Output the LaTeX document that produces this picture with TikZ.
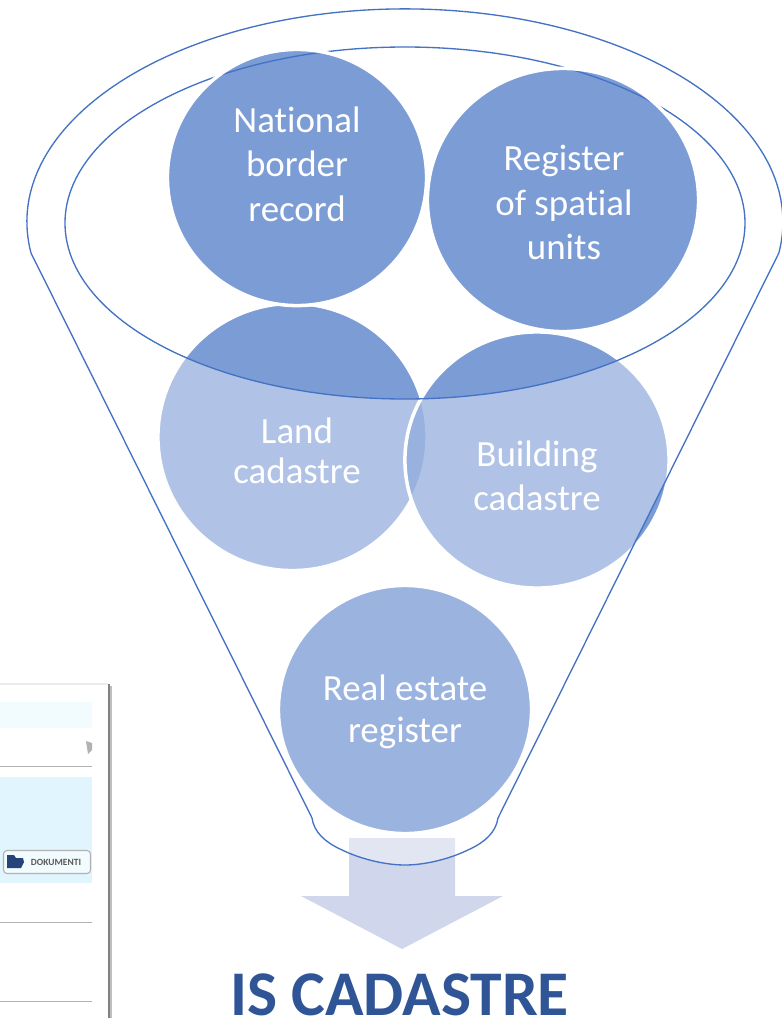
\documentclass[tikz,border=0pt]{standalone}
\usepackage{fontspec}
\setmainfont[Ligatures=NoCommon]{Carlito}
\usetikzlibrary{shapes.geometric}
\definecolor{funnelblue}{HTML}{4472C4}
\definecolor{arrowblue}{HTML}{D0D6EB}
\definecolor{titleblue}{HTML}{2F5597}
\tikzset{
  blob/.style={ellipse,draw=white,line width=1pt,fill=funnelblue,fill opacity=0.7,inner sep=0pt},
  blobtext/.style={align=center,text=white,font=\fontsize{10.5}{12.6}\selectfont},
  funnelline/.style={draw=funnelblue,line width=0.38pt},
  rule/.style={draw=black!30,line width=0.25pt}
}
\begin{document}
\begin{tikzpicture}[x=0.01cm,y=-0.01cm]
\useasboundingbox (0,0) rectangle (782,1018);

\fill[black!8] (0,683) rectangle (108,684.5);
\fill[black!25] (110,686) rectangle (112,1018);
\fill[black!50] (108,684) rectangle (110,1018);
\fill[cyan!5] (0,702) rectangle (92,728);
\draw[rule] (0,766) -- (92,766);
\fill[cyan!12] (0,777) rectangle (92,883);
\draw[rule] (0,922) -- (92,922);
\draw[rule] (0,1001) -- (92,1001);
\fill[black!30] (86,741) -- (92,743) -- (92,750) -- (88,754) -- cycle;
\node[draw=black!30,fill=cyan!5,rounded corners=1pt,line width=0.3pt,minimum width=0.87cm,minimum height=0.23cm,inner sep=0pt] (btnDoc) at (47,862) {};
\fill[titleblue!80!black] (7,855) -- (14,855) -- (16,858) -- (23,858) -- (24,862) -- (21,868) -- (7,868) -- cycle;
\node[text=black!65,font=\fontsize{2.7}{3.2}\selectfont\bfseries,inner sep=0pt] (txtDoc) at (56,862) {DOKUMENTI};

\fill[arrowblue] (349,838) -- (455,838) -- (455,896) -- (503,896) -- (402,949) -- (301,896) -- (349,896) -- cycle;

\node[blob,minimum width=2.69cm,minimum height=2.67cm] (v3) at (292.5,437) {};
\node[blob,minimum width=2.64cm,minimum height=2.56cm] (v4) at (537,460) {};

\fill[white,fill opacity=0.4,even odd rule] (31,253) arc[start angle=171.6,end angle=368.4,x radius=378,y radius=213] -- (498,818) .. controls (496,832) and (485,842) .. (470,849) .. controls (450,859) and (425,865) .. (405,865) .. controls (385,865) and (360,859) .. (340,849) .. controls (325,842) and (314,832) .. (312,818) -- cycle (405,223) ellipse (340 and 176);

\draw[funnelline] (31,253) arc[start angle=171.6,end angle=368.4,x radius=378,y radius=213] -- (498,818) .. controls (496,832) and (485,842) .. (470,849) .. controls (450,859) and (425,865) .. (405,865) .. controls (385,865) and (360,859) .. (340,849) .. controls (325,842) and (314,832) .. (312,818) -- cycle;
\draw[funnelline] (405,223) ellipse (340 and 176);

\node[blob,minimum width=2.59cm,minimum height=2.56cm] (v1) at (297,177.5) {};
\node[blob,minimum width=2.71cm,minimum height=2.63cm] (v2) at (563,200) {};
\node[blob,fill opacity=0.535,minimum width=2.53cm,minimum height=2.48cm] (v5) at (405,709.5) {};

\node[blobtext] (t1) at (297,164) {National\\border\\record};
\node[blobtext] (t2) at (564,202.5) {Register\\of spatial\\units};
\node[blobtext,font=\fontsize{10.5}{11.4}\selectfont] (t3) at (297,451) {Land\\cadastre};
\node[blobtext] (t4) at (537,476) {Building\\cadastre};
\node[blobtext,font=\fontsize{10.5}{11.9}\selectfont] (t5) at (405,712) {Real estate\\register};

\node[text=titleblue,font=\fontsize{18.1}{20}\selectfont\bfseries,inner sep=0pt] (title) at (399.5,994.5) {IS CADASTRE};
\end{tikzpicture}
\end{document}
